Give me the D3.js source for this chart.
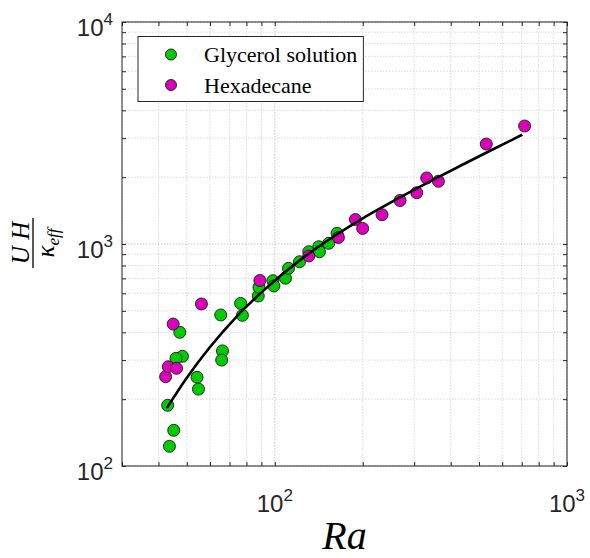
<!DOCTYPE html>
<html>
<head>
<meta charset="utf-8">
<script src="https://cdn.jsdelivr.net/npm/d3@7"></script>
<style>
  body { margin: 0; background: #fff; }
  svg { display: block; }
</style>
</head>
<body>
<div id="chart"></div>
<script>
// values
const glycerolRa = [43.6, 45.1, 43.0, 47.3, 48.3, 45.9, 54.2, 54.8, 65.3, 66.2, 65.8,
    76.4, 77.5, 87.8, 88.3, 98.5, 99.3, 108.8, 111.4, 121.5, 130.7, 141.4, 142.2, 153.0, 163.4];
const glycerolValue = [122.7, 144.8, 187.7, 400, 312, 305.5, 251, 222, 479, 330, 300,
    540, 477, 583, 638, 683, 647, 701, 777, 832, 923, 972, 923, 1007, 1117];

const hexadecaneRa = [42.3, 43.2, 46.1, 44.9, 56.1, 88.9, 130.7, 165.1, 188.7, 199.9,
    232.8, 268.3, 306, 331, 363, 529.5, 716];
const hexadecaneValue = [252.5, 280, 275.5, 436, 537, 685, 883, 1070, 1289, 1175,
    1355, 1570, 1703, 1983, 1917, 2821, 3400];

// fitted curve, sampled along the drawn line
const fitRa = [42.7, 49.8, 73.9, 93.3, 118.0, 162, 199.9, 259.8, 337.5, 438.6, 570, 703];
const fitValue = [182.5, 248, 470, 631, 818, 1098, 1305, 1584, 1903, 2275, 2707, 3107];

const xTicks = [100, 1000];
const yTicks = [100, 1000, 10000];
const legendLabels = ['Glycerol solution', 'Hexadecane'];

const width = 590, height = 558;
const margin = {top: 22, right: 23, bottom: 92, left: 122};
const innerW = width - margin.left - margin.right;
const innerH = height - margin.top - margin.bottom;

const green = '#00cc00', magenta = '#dd00bb';
const axisColor = '#262626';

const svg = d3.select('#chart').append('svg')
    .attr('width', width)
    .attr('height', height);

const x = d3.scaleLog().domain([30, 1000]).range([0, innerW]);
const y = d3.scaleLog().domain([100, 10000]).range([innerH, 0]);

const g = svg.append('g').attr('transform', `translate(${margin.left},${margin.top})`);

// grid (major + minor)
const xAll = x.ticks().filter(d => d >= 30 && d <= 1000);
const yAll = y.ticks();
const grid = g.append('g');
grid.selectAll('line.gx').data(xAll).enter().append('line')
    .attr('x1', d => x(d)).attr('x2', d => x(d))
    .attr('y1', 0).attr('y2', innerH)
    .attr('stroke', d => xTicks.includes(d) ? '#b8b8b8' : '#d2d2d2')
    .attr('stroke-width', 0.8)
    .attr('stroke-dasharray', '1.5,1.5');
grid.selectAll('line.gy').data(yAll).enter().append('line')
    .attr('y1', d => y(d)).attr('y2', d => y(d))
    .attr('x1', 0).attr('x2', innerW)
    .attr('stroke', d => yTicks.includes(d) ? '#b8b8b8' : '#d2d2d2')
    .attr('stroke-width', 0.8)
    .attr('stroke-dasharray', '1.5,1.5');

// axes with inward ticks
const noText = sel => sel.selectAll('text').remove();
const styleAxis = sel => {
    sel.select('.domain').remove();
    sel.selectAll('line').attr('stroke', axisColor);
};
g.append('g').attr('transform', `translate(0,${innerH})`)
    .call(d3.axisBottom(x).tickValues(xAll).tickSizeInner(-4).tickSizeOuter(0))
    .call(noText).call(styleAxis);
g.append('g')
    .call(d3.axisTop(x).tickValues(xAll).tickSizeInner(-4).tickSizeOuter(0))
    .call(noText).call(styleAxis);
g.append('g')
    .call(d3.axisLeft(y).tickValues(yAll).tickSizeInner(-4).tickSizeOuter(0))
    .call(noText).call(styleAxis);
g.append('g').attr('transform', `translate(${innerW},0)`)
    .call(d3.axisRight(y).tickValues(yAll).tickSizeInner(-4).tickSizeOuter(0))
    .call(noText).call(styleAxis);

g.append('rect')
    .attr('width', innerW).attr('height', innerH)
    .attr('fill', 'none').attr('stroke', axisColor).attr('stroke-width', 1);

// tick labels 10^n
const exp = d => Math.round(Math.log10(d));
const xLab = g.append('g').selectAll('text').data(xTicks).enter().append('text')
    .attr('x', d => x(d)).attr('y', innerH + 46)
    .attr('text-anchor', 'middle')
    .attr('font-family', 'Liberation Sans, Arial, sans-serif')
    .attr('font-size', 24).attr('fill', axisColor);
xLab.append('tspan').text('10');
xLab.append('tspan').attr('dy', -11).attr('font-size', 17).text(d => exp(d));

const yLab = g.append('g').selectAll('text').data(yTicks).enter().append('text')
    .attr('x', -9).attr('y', d => y(d) + 14)
    .attr('text-anchor', 'end')
    .attr('font-family', 'Liberation Sans, Arial, sans-serif')
    .attr('font-size', 24).attr('fill', axisColor);
yLab.append('tspan').text('10');
yLab.append('tspan').attr('dy', -11).attr('font-size', 17).text(d => exp(d));

// fit line
const fitData = fitRa.map((r, i) => [r, fitValue[i]]);
const fitLine = d3.line().x(d => x(d[0])).y(d => y(d[1])).curve(d3.curveMonotoneX);

// scatter points
function drawPoints(ra, vals, color) {
    g.append('g').selectAll('circle').data(ra.map((r, i) => [r, vals[i]])).enter()
        .append('circle')
        .attr('cx', d => x(d[0])).attr('cy', d => y(d[1]))
        .attr('r', 6)
        .attr('fill', color)
        .attr('stroke', '#1a1a1a').attr('stroke-width', 0.9);
}
drawPoints(glycerolRa, glycerolValue, green);
drawPoints(hexadecaneRa, hexadecaneValue, magenta);

g.append('path')
    .datum(fitData)
    .attr('fill', 'none')
    .attr('stroke', '#000')
    .attr('stroke-width', 2.6)
    .attr('d', fitLine);

// legend
const leg = svg.append('g');
const legBox = leg.append('rect')
    .attr('x', 138).attr('y', 36.5).attr('height', 65)
    .attr('fill', '#fff').attr('stroke', axisColor).attr('stroke-width', 1);
const legColors = [green, magenta];
const legText = [];
legendLabels.forEach((lab, i) => {
    const cy = 54.5 + i * 30.5;
    leg.append('circle').attr('cx', 171).attr('cy', cy).attr('r', 5.5)
        .attr('fill', legColors[i]).attr('stroke', '#1a1a1a').attr('stroke-width', 0.9);
    legText.push(leg.append('text').attr('x', 204).attr('y', cy + 7.5)
        .attr('font-family', 'Liberation Serif, Times New Roman, serif')
        .attr('font-size', 22).attr('fill', '#000').text(lab));
});
const textEnd = d3.max(legText, t => t.node().getBBox().x + t.node().getBBox().width);
legBox.attr('width', textEnd + 6 - 138);

// axis titles
svg.append('text')
    .attr('x', margin.left + innerW / 2).attr('y', 549)
    .attr('text-anchor', 'middle')
    .attr('font-family', 'Liberation Serif, Times New Roman, serif')
    .attr('font-style', 'italic').attr('font-size', 40)
    .text('Ra');

const yt = svg.append('g').attr('transform', 'translate(33,243) rotate(-90)');
yt.append('text').attr('x', 0).attr('y', -4)
    .attr('text-anchor', 'middle')
    .attr('font-family', 'Liberation Serif, Times New Roman, serif')
    .attr('font-style', 'italic').attr('font-size', 25)
    .text('U H');
yt.append('line').attr('x1', -25).attr('x2', 25).attr('y1', 0).attr('y2', 0)
    .attr('stroke', '#000').attr('stroke-width', 1.3);
const kt = yt.append('text').attr('x', 0).attr('y', 21)
    .attr('text-anchor', 'middle')
    .attr('font-family', 'Liberation Serif, Times New Roman, serif')
    .attr('font-style', 'italic').attr('font-size', 25);
kt.append('tspan').text('κ');
kt.append('tspan').attr('dy', 5).attr('font-size', 17).text('eff');
</script>
</body>
</html>
